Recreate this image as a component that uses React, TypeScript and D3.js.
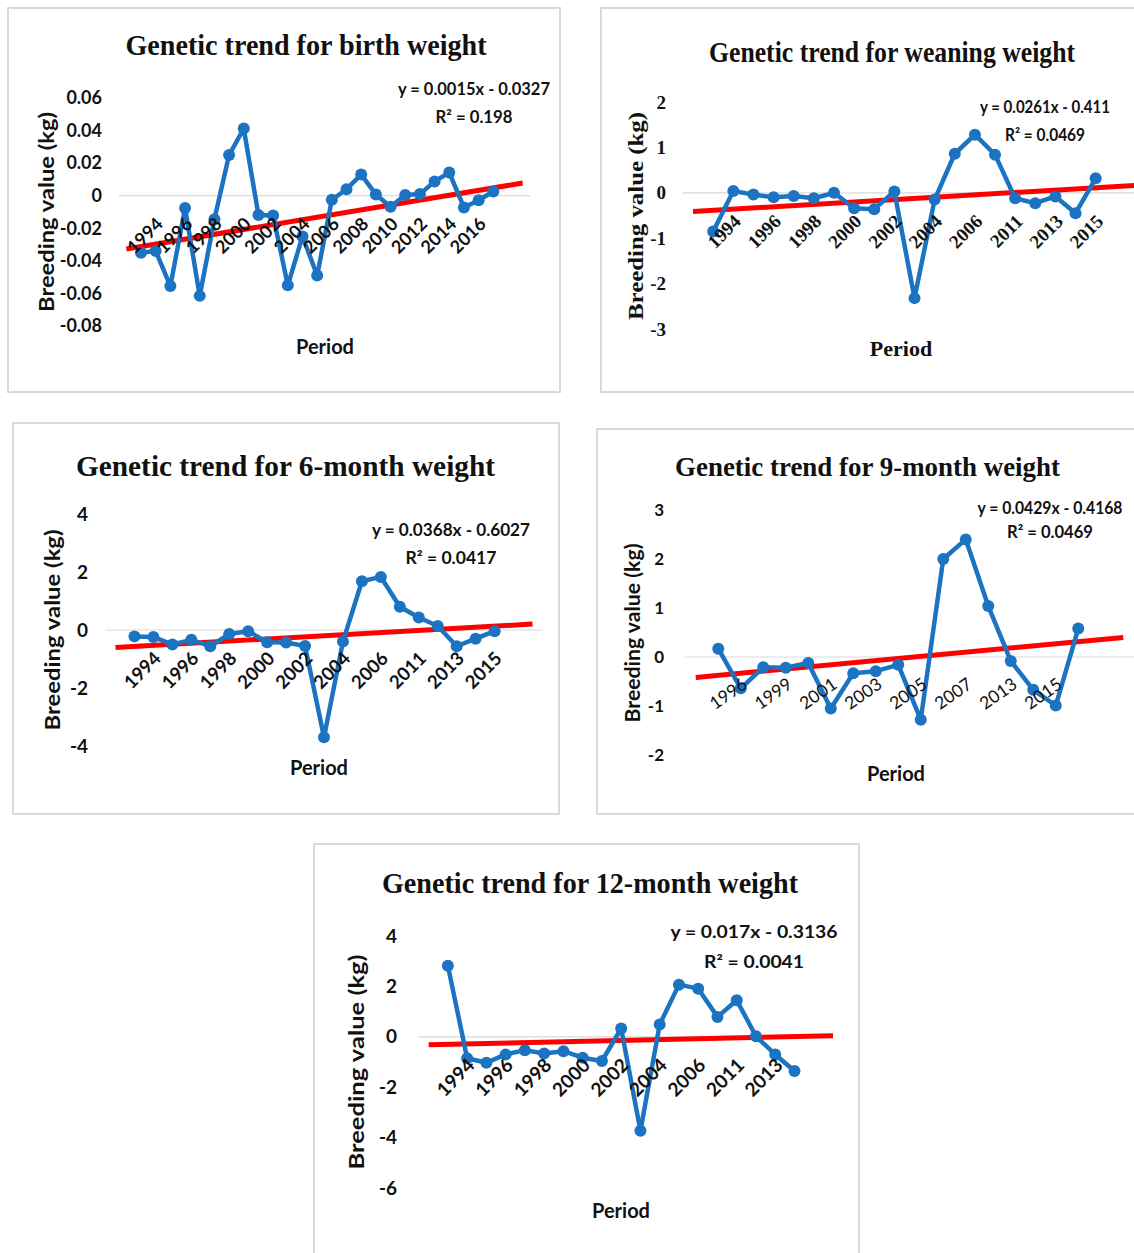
import React from 'react';
import * as d3 from 'd3';

// birth weight
const birthYears = [1993, 1994, 1995, 1996, 1997, 1998, 1999, 2000, 2001, 2002, 2003, 2004, 2005, 2006, 2007, 2008, 2009, 2010, 2011, 2012, 2013, 2014, 2015, 2016, 2017];
const birthValues = [-0.035, -0.034, -0.0555, -0.0075, -0.0615, -0.0145, 0.025, 0.0412, -0.0118, -0.0122, -0.055, -0.025, -0.049, -0.0025, 0.004, 0.013, 0.0008, -0.0068, 0.0005, 0.001, 0.0088, 0.0142, -0.0072, -0.0028, 0.0026];
const birthTicks = [0.06, 0.04, 0.02, 0, -0.02, -0.04, -0.06, -0.08];
const birthTrend = { slope: 0.0015, intercept: -0.0327, eq: 'y = 0.0015x - 0.0327', r2: 'R² = 0.198' };

// weaning weight
const weanYears = [1993, 1994, 1995, 1996, 1997, 1998, 1999, 2000, 2001, 2002, 2003, 2004, 2005, 2006, 2007, 2011, 2012, 2013, 2014, 2015];
const weanValues = [-0.85, 0.04, -0.04, -0.1, -0.07, -0.12, 0.0, -0.34, -0.36, 0.03, -2.32, -0.15, 0.86, 1.28, 0.84, -0.12, -0.23, -0.08, -0.45, 0.32];
const weanTicks = [2, 1, 0, -1, -2, -3];
const weanTrend = { slope: 0.0261, intercept: -0.411, eq: 'y = 0.0261x - 0.411', r2: 'R² = 0.0469' };

// 6-month weight
const m6Years = [1993, 1994, 1995, 1996, 1997, 1998, 1999, 2000, 2001, 2002, 2003, 2004, 2005, 2006, 2007, 2011, 2012, 2013, 2014, 2015];
const m6Values = [-0.22, -0.24, -0.5, -0.34, -0.56, -0.14, -0.04, -0.42, -0.43, -0.55, -3.7, -0.4, 1.68, 1.83, 0.8, 0.43, 0.14, -0.56, -0.3, -0.04];
const m6Ticks = [4, 2, 0, -2, -4];
const m6Trend = { slope: 0.0368, intercept: -0.6027, eq: 'y = 0.0368x - 0.6027', r2: 'R² = 0.0417' };

// 9-month weight
const m9Years = [1994, 1996, 1998, 1999, 2000, 2001, 2002, 2003, 2004, 2005, 2006, 2007, 2011, 2013, 2014, 2015, 2016];
const m9Values = [0.17, -0.64, -0.21, -0.22, -0.12, -1.05, -0.33, -0.29, -0.16, -1.28, 2.0, 2.4, 1.04, -0.08, -0.67, -0.99, 0.58];
const m9Ticks = [3, 2, 1, 0, -1, -2];
const m9Trend = { slope: 0.0429, intercept: -0.4168, eq: 'y = 0.0429x - 0.4168', r2: 'R² = 0.0469' };

// 12-month weight
const m12Years = [1993, 1994, 1995, 1996, 1997, 1998, 1999, 2000, 2001, 2002, 2003, 2004, 2005, 2006, 2007, 2011, 2012, 2013, 2014];
const m12Values = [2.82, -0.85, -1.03, -0.7, -0.53, -0.66, -0.57, -0.83, -0.96, 0.33, -3.73, 0.49, 2.07, 1.91, 0.79, 1.45, 0.02, -0.7, -1.36];
const m12Ticks = [4, 2, 0, -2, -4, -6];
const m12Trend = { slope: 0.017, intercept: -0.3136, eq: 'y = 0.017x - 0.3136', r2: 'R² = 0.0041' };

const SANS = "Lato, 'Open Sans', sans-serif";
const SERIF = "'Liberation Serif', 'Times New Roman', serif";
const BLUE = '#1b73c2';

const panels = [
  {
    title: 'Genetic trend for birth weight', years: birthYears, values: birthValues, ticks: birthTicks, trend: birthTrend,
    box: [8, 8, 560, 392], titleX: 306, titleY: 55, titleSize: 29, titleLen: 361,
    xRange: [119, 530], xEnd: 2.5, yDomain: [-0.08, 0.06], yRange: [326, 98], fmt: (v: number) => (v === 0 ? '0' : v.toFixed(2)),
    font: SANS, tickRight: 102, tickSize: 18, yTitleX: 47, yTitleY: 212, yTitleLen: 200,
    periodX: 325, periodY: 347, eqX: 474, eqY: 89, eqLen: 152, r2Len: 77, eqGap: 28, angle: -45, labelWeight: 700, labelSize: 18,
  },
  {
    title: 'Genetic trend for weaning weight', years: weanYears, values: weanValues, ticks: weanTicks, trend: weanTrend,
    box: [601, 8, 1142, 392], titleX: 892, titleY: 62, titleSize: 29, titleLen: 366,
    xRange: [683, 1146], xEnd: 2.5, yDomain: [-3, 2], yRange: [329, 102], fmt: (v: number) => String(v),
    font: SERIF, tickRight: 666, tickSize: 19, yTitleX: 636, yTitleY: 216, yTitleLen: 208,
    periodX: 901, periodY: 348, eqX: 1045, eqY: 107, eqLen: 130, r2Len: 80, eqGap: 28, angle: -45, labelWeight: 700, labelSize: 19,
  },
  {
    title: 'Genetic trend for 6-month weight', years: m6Years, values: m6Values, ticks: m6Ticks, trend: m6Trend,
    box: [13, 423, 559, 814], titleX: 285.5, titleY: 476, titleSize: 30, titleLen: 419,
    xRange: [106, 542], xEnd: 2.5, yDomain: [-4, 4], yRange: [746, 514], fmt: (v: number) => String(v),
    font: SANS, tickRight: 88, tickSize: 19, yTitleX: 53, yTitleY: 630, yTitleLen: 201,
    periodX: 319, periodY: 768, eqX: 451, eqY: 530, eqLen: 158, r2Len: 91, eqGap: 28, angle: -45, labelWeight: 700, labelSize: 18.5,
  },
  {
    title: 'Genetic trend for 9-month weight', years: m9Years, values: m9Values, ticks: m9Ticks, trend: m9Trend,
    box: [597, 429, 1142, 814], titleX: 867.5, titleY: 476, titleSize: 27, titleLen: 385,
    xRange: [684.5, 1134.5], xEnd: 2.5, yDomain: [-2, 3], yRange: [755, 510], fmt: (v: number) => String(v),
    font: SANS, tickRight: 664, tickSize: 17, yTitleX: 633, yTitleY: 633, yTitleLen: 179,
    periodX: 896, periodY: 774, eqX: 1050, eqY: 508, eqLen: 145, r2Len: 86, eqGap: 24, angle: -35, labelWeight: 400, labelSize: 17.5,
  },
  {
    title: 'Genetic trend for 12-month weight', years: m12Years, values: m12Values, ticks: m12Ticks, trend: m12Trend,
    box: [314, 844, 859, 1262], titleX: 590, titleY: 893, titleSize: 29, titleLen: 416,
    xRange: [419, 833], xEnd: 2, yDomain: [-6, 4], yRange: [1188, 936], fmt: (v: number) => String(v),
    font: SANS, tickRight: 397, tickSize: 19, yTitleX: 357, yTitleY: 1062, yTitleLen: 215,
    periodX: 621, periodY: 1211, eqX: 754, eqY: 932, eqLen: 167, r2Len: 100, eqGap: 30, angle: -45, labelWeight: 700, labelSize: 19,
  },
];

function Panel({ p }: { p: any }) {
  const n = p.values.length;
  const x = d3.scaleLinear().domain([-0.5, n + p.xEnd]).range(p.xRange);
  const y = d3.scaleLinear().domain(p.yDomain).range(p.yRange);
  const pts: [number, number][] = p.values.map((v: number, i: number) => [x(i + 1), y(v)]);
  const path = d3.line()(pts) || '';
  const trendPts: [number, number][] = [0, n + 2].map(t => [x(t), y(p.trend.slope * t + p.trend.intercept)]);
  const trendPath = d3.line()(trendPts) || '';
  const [bx0, by0, bx1, by1] = p.box;
  const zeroY = y(0);
  const isSerif = p.font === SERIF;

  return (
    <g>
      <rect x={bx0} y={by0} width={bx1 - bx0} height={by1 - by0} fill="#fff" stroke="#d9d9d9" strokeWidth={2} />
      <text x={p.titleX} y={p.titleY} textAnchor="middle" fontFamily={SERIF} fontWeight={700}
        fontSize={p.titleSize} textLength={p.titleLen} lengthAdjust="spacingAndGlyphs" fill="#111">{p.title}</text>

      <line x1={p.xRange[0]} x2={p.xRange[1]} y1={zeroY} y2={zeroY} stroke="#d9d9d9" strokeWidth={1.2} />

      {p.ticks.map((t: number) => (
        <text key={t} x={p.tickRight} y={y(t)} dy="0.35em" textAnchor="end" fontFamily={p.font} fontWeight={700}
          fontSize={p.tickSize} fill="#111">{p.fmt(t)}</text>
      ))}

      <text transform={`translate(${p.yTitleX},${p.yTitleY}) rotate(-90)`} dy="0.35em" textAnchor="middle"
        fontFamily={p.font} fontWeight={700} fontSize={isSerif ? 21 : 20} textLength={p.yTitleLen}
        lengthAdjust="spacingAndGlyphs" fill="#111">Breeding value (kg)</text>

      <path d={trendPath} stroke="#ff0000" strokeWidth={5} fill="none" />
      <path d={path} stroke={BLUE} strokeWidth={4.5} fill="none" strokeLinejoin="round" />
      {pts.map((d, i) => (
        <circle key={i} cx={d[0]} cy={d[1]} r={6} fill={BLUE} />
      ))}

      {p.years.map((yr: number, i: number) => i % 2 === 1 ? (
        <text key={yr} transform={`translate(${x(i + 1) + 4},${zeroY + 25}) rotate(${p.angle})`} dy="0.35em"
          textAnchor="end" fontFamily={p.font} fontWeight={p.labelWeight} fontSize={p.labelSize} fill="#111">{yr}</text>
      ) : null)}

      <text x={p.periodX} y={p.periodY} dy="0.35em" textAnchor="middle" fontFamily={p.font} fontWeight={700}
        fontSize={isSerif ? 22 : 20} fill="#111">Period</text>

      <text x={p.eqX} y={p.eqY} dy="0.35em" textAnchor="middle" fontFamily={SANS} fontWeight={700} fontSize={16.5}
        textLength={p.eqLen} lengthAdjust="spacingAndGlyphs" fill="#111">{p.trend.eq}</text>
      <text x={p.eqX} y={p.eqY + p.eqGap} dy="0.35em" textAnchor="middle" fontFamily={SANS} fontWeight={700} fontSize={16.5}
        textLength={p.r2Len} lengthAdjust="spacingAndGlyphs" fill="#111">{p.trend.r2}</text>
    </g>
  );
}

export default function App() {
  return (
    <div style={{ position: 'absolute', left: 0, top: 0 }}>
      <svg width={1134} height={1253} style={{ display: 'block', background: '#fff' }}>
        {panels.map(p => <Panel key={p.title} p={p} />)}
      </svg>
    </div>
  );
}
